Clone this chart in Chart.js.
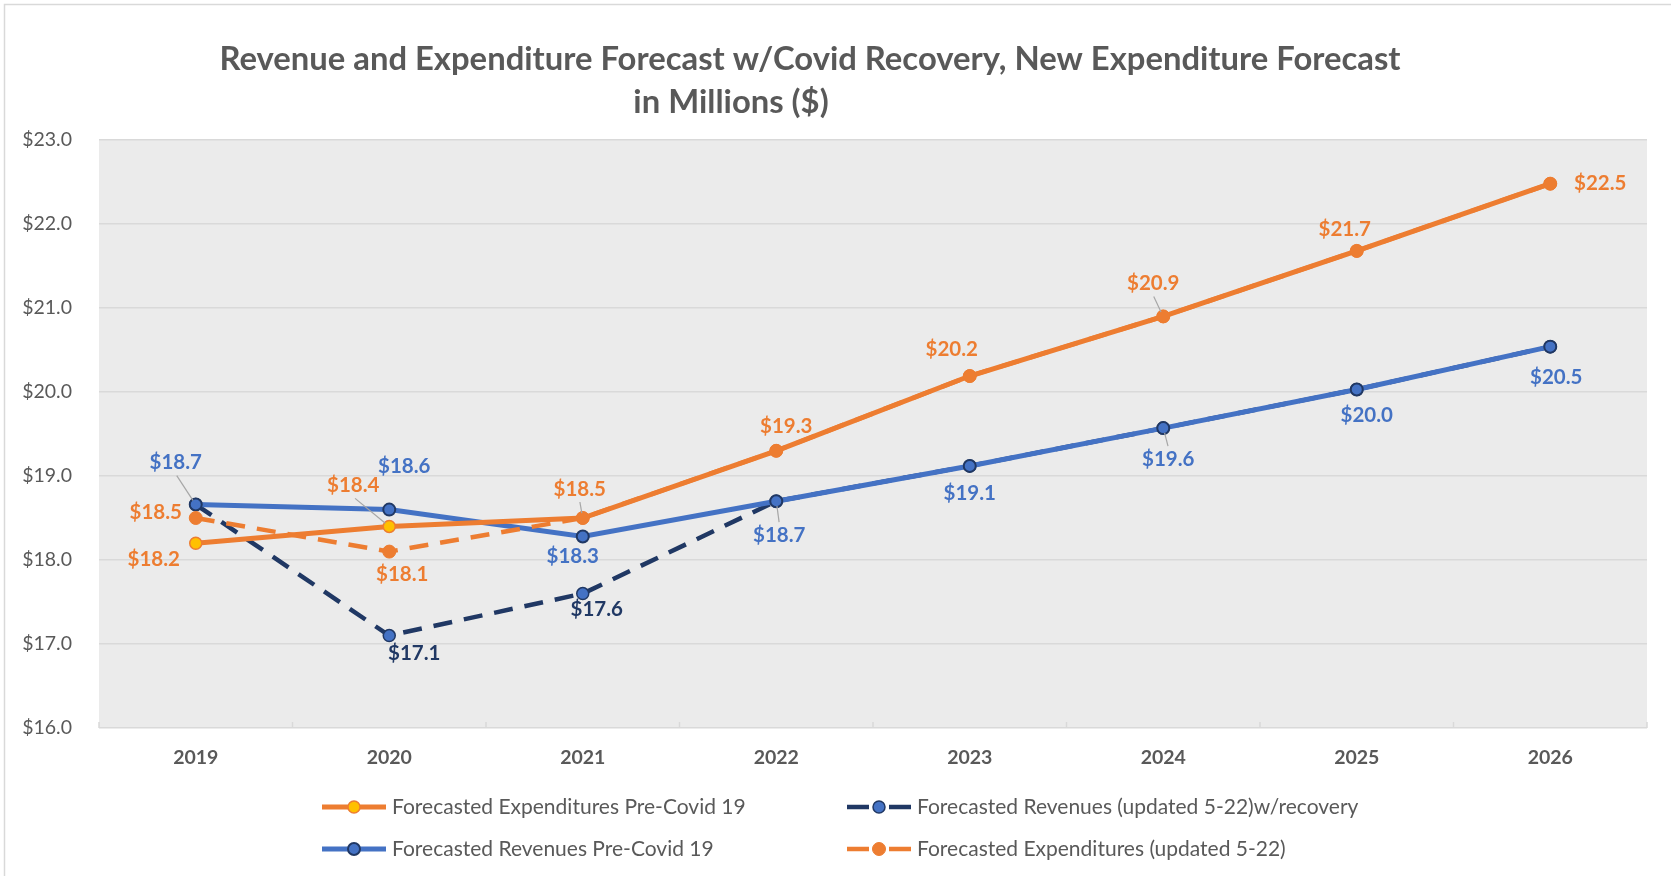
<!DOCTYPE html>
<html><head><meta charset="utf-8">
<script src="https://cdn.jsdelivr.net/npm/chart.js@4/dist/chart.umd.min.js"></script>
<style>html,body{margin:0;padding:0;background:#fff;overflow:hidden}canvas{display:block}</style>
</head><body>
<canvas id="c" width="1671" height="876"></canvas>
<script>
// ---- data ----
const years = ['2019','2020','2021','2022','2023','2024','2025','2026'];
const expPreCovid = [18.2, 18.4, 18.5, 19.3, 20.19, 20.9, 21.68, 22.48];
const revUpdated  = [18.66, 17.1, 17.6, 18.7, 19.12, 19.57, 20.03, 20.54];
const revPreCovid = [18.66, 18.6, 18.28, 18.7, 19.12, 19.57, 20.03, 20.54];
const expUpdated  = [18.5, 18.1, 18.5, 19.3, 20.19, 20.9, 21.68, 22.48];
const seriesNames = ['Forecasted Expenditures Pre-Covid 19','Forecasted Revenues (updated 5-22)w/recovery','Forecasted Revenues Pre-Covid 19','Forecasted Expenditures (updated 5-22)'];
const yMin = 16, yMax = 23, yStep = 1;
const titleLines = ['Revenue and Expenditure Forecast w/Covid Recovery, New Expenditure Forecast', 'in Millions ($)'];

// ---- styles ----
const ORANGE='#ed7d31', BLUE='#4472c4', NAVY='#203864', YELLOW='#ffc000', GREY='#595959', GRID='#d9d9d9';
const FONT='Lato';
const DASH=[19,12];

// label layout: [datasetIndex, pointIndex, dx, dy, leader]
const labelLayout = [
 [2,0,-20,-42,true],[3,0,-40,-6,false],[0,0,-42,16,false],
 [0,1,-36,-41,true],[2,1,15,-43,false],[3,1,13,23,false],[1,1,25,18,false],
 [3,2,-3,-29,true],[2,2,-10,20,false],[1,2,14,16,false],
 [2,3,3,34,true],[3,3,10,-24,false],
 [2,4,0,27,false],[3,4,-18,-27,false],
 [2,5,5,31,true],[3,5,-10,-33,true],
 [2,6,10,26,false],[3,6,-12,-21,false],
 [2,7,6,31,false],[3,7,50,0,false]
];
const labelColors = [ORANGE, NAVY, BLUE, ORANGE];

const bgPlugin = {
  id:'bg',
  beforeDraw(chart){
    const {ctx, chartArea:a} = chart;
    ctx.save();
    ctx.fillStyle='#fff'; ctx.fillRect(0,0,chart.width,chart.height);
    ctx.strokeStyle=GRID; ctx.lineWidth=1.5;
    ctx.strokeRect(4.5,4.5,1700,900);
    ctx.fillStyle='#ebebeb';
    ctx.fillRect(a.left,a.top,a.right-a.left,a.bottom-a.top);
    ctx.restore();
  },
  beforeDatasetsDraw(chart){
    const {ctx, chartArea:a, scales:{x}} = chart;
    ctx.save(); ctx.strokeStyle=GRID; ctx.lineWidth=1.5;
    for(let k=0;k<=years.length;k++){
      const px = x.getPixelForValue(k-0.5);
      ctx.beginPath(); ctx.moveTo(px,a.bottom); ctx.lineTo(px,a.bottom-6); ctx.stroke();
    }
    ctx.restore();
  }
};

const labelPlugin = {
  id:'vlabels',
  afterDatasetsDraw(chart){
    const ctx = chart.ctx;
    ctx.save();
    ctx.font = `bold 20.5px ${FONT}`;
    ctx.textAlign='center'; ctx.textBaseline='middle';
    labelLayout.forEach(([di,pi,dx,dy,leader])=>{
      const el = chart.getDatasetMeta(di).data[pi];
      const v = chart.data.datasets[di].data[pi];
      const lx = el.x+dx, ly = el.y+dy;
      if(leader){
        const sy = ly + (el.y>ly?13:-13);
        const ddx = el.x - lx, ddy = el.y - sy;
        const len = Math.hypot(ddx,ddy);
        ctx.strokeStyle='#a6a6a6'; ctx.lineWidth=1.2;
        ctx.beginPath(); ctx.moveTo(lx+ddx*0.05, sy); ctx.lineTo(el.x-ddx/len*5, el.y-ddy/len*5); ctx.stroke();
      }
      ctx.fillStyle = labelColors[di];
      ctx.fillText('$'+v.toFixed(1), lx, ly);
    });
    ctx.restore();
  }
};

const titleLegendPlugin = {
  id:'titlelegend',
  afterDraw(chart){
    const ctx = chart.ctx;
    ctx.save();
    ctx.fillStyle=GREY; ctx.textAlign='center'; ctx.textBaseline='alphabetic';
    ctx.font=`bold 32.8px ${FONT}`;
    ctx.fillText(titleLines[0], 810, 70);
    ctx.fillText(titleLines[1], 731, 113);
    // legend
    const cols=[322,847], rows=[807,849];
    const pos=[[0,0],[1,0],[0,1],[1,1]];
    ctx.font=`21px ${FONT}`; ctx.textAlign='left'; ctx.textBaseline='middle';
    chart.data.datasets.forEach((ds,i)=>{
      const x=cols[pos[i][0]], y=rows[pos[i][1]];
      ctx.strokeStyle=ds.borderColor; ctx.lineWidth=ds.borderWidth; ctx.lineCap='butt';
      ctx.beginPath();
      if(ds.borderDash){ ctx.moveTo(x,y); ctx.lineTo(x+22,y); ctx.moveTo(x+42,y); ctx.lineTo(x+64,y); }
      else { ctx.moveTo(x,y); ctx.lineTo(x+64,y); }
      ctx.stroke();
      ctx.beginPath(); ctx.arc(x+32,y,ds.pointRadius,0,Math.PI*2);
      ctx.fillStyle=ds.pointBackgroundColor; ctx.fill();
      ctx.lineWidth=ds.pointBorderWidth; ctx.strokeStyle=ds.pointBorderColor; ctx.stroke();
      ctx.fillStyle=GREY;
      ctx.fillText(seriesNames[i], x+70, y);
    });
    ctx.restore();
  }
};

new Chart(document.getElementById('c'), {
  type:'line',
  data:{
    labels: years,
    datasets:[
      {label:seriesNames[0], data:expPreCovid, order:1, borderColor:ORANGE, borderWidth:5,
        pointRadius:6, pointBackgroundColor:YELLOW, pointBorderColor:ORANGE, pointBorderWidth:1.5},
      {label:seriesNames[1], data:revUpdated, order:3, borderColor:NAVY, borderWidth:4.5, borderDash:DASH,
        pointRadius:6, pointBackgroundColor:BLUE, pointBorderColor:NAVY, pointBorderWidth:1.5},
      {label:seriesNames[2], data:revPreCovid, order:2, borderColor:BLUE, borderWidth:5,
        pointRadius:6, pointBackgroundColor:BLUE, pointBorderColor:NAVY, pointBorderWidth:2},
      {label:seriesNames[3], data:expUpdated, order:0, borderColor:ORANGE, borderWidth:4.5, borderDash:DASH,
        pointRadius:6.5, pointBackgroundColor:ORANGE, pointBorderColor:ORANGE, pointBorderWidth:1}
    ]
  },
  options:{
    responsive:false, animation:false, devicePixelRatio:1,
    layout:{padding:{top:140,left:0,right:24,bottom:0}},
    plugins:{legend:{display:false}, title:{display:false}, tooltip:{enabled:false}},
    elements:{line:{tension:0, borderCapStyle:'butt'}},
    scales:{
      x:{offset:true, grid:{display:false}, border:{display:false},
         ticks:{color:GREY, font:{family:FONT, size:19.5, weight:'bold'}, padding:10},
         afterFit(s){ s.height = 876-728; }},
      y:{min:yMin, max:yMax, grid:{color:GRID, lineWidth:1.5, drawTicks:false}, border:{display:false},
         ticks:{stepSize:yStep, color:GREY, font:{family:FONT, size:19.5}, padding:27,
                callback:v=>'$'+Number(v).toFixed(1)},
         afterFit(s){ s.width = 99; }}
    }
  },
  plugins:[bgPlugin, labelPlugin, titleLegendPlugin]
});
</script>
</body></html>
